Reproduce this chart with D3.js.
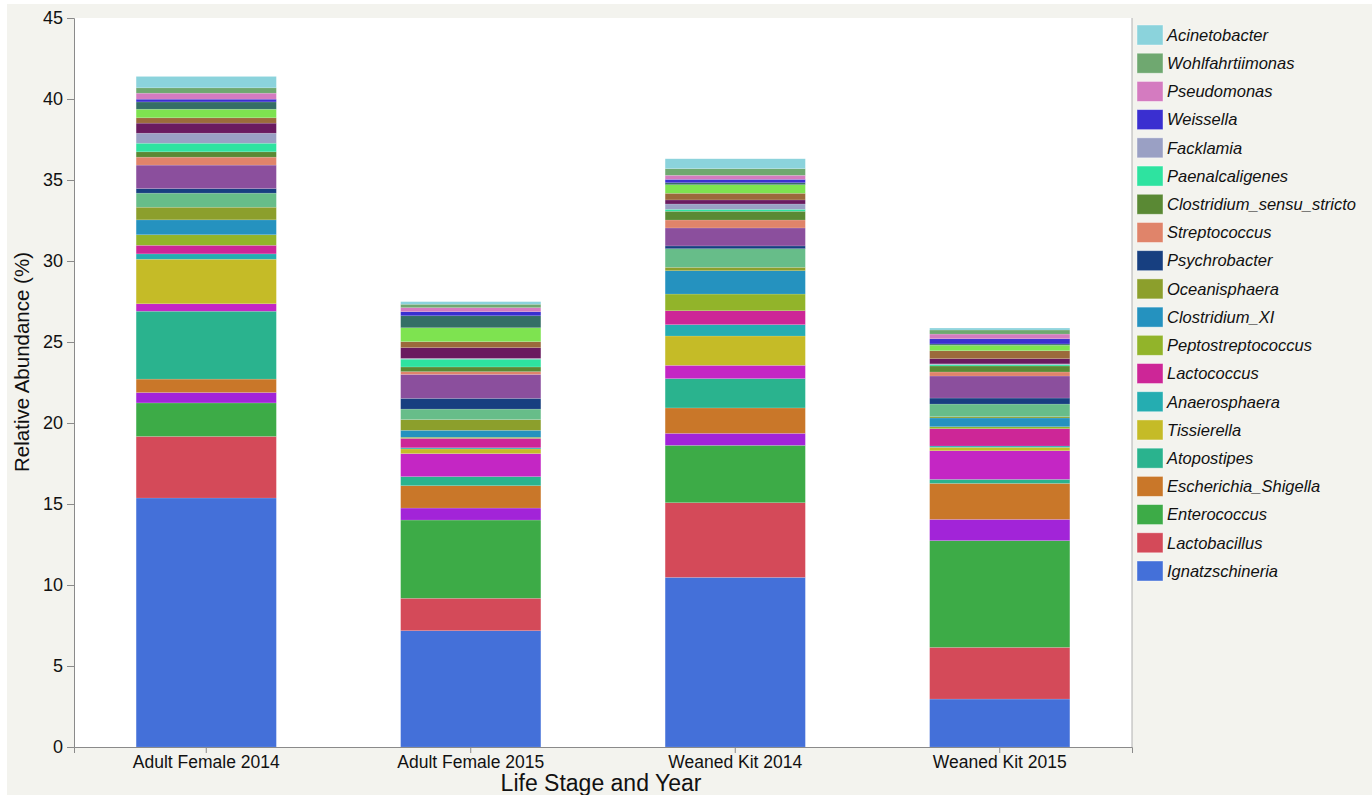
<!DOCTYPE html>
<html>
<head>
<meta charset="utf-8">
<script src="https://cdn.jsdelivr.net/npm/d3@7"></script>
<style>
  html, body { margin: 0; padding: 0; background: #ffffff; }
  svg { display: block; font-family: "Liberation Sans", Arial, Helvetica, sans-serif; }
</style>
</head>
<body>
<svg id="chart" width="1372" height="795"></svg>
<script>
// Sample groups on the x axis
const groups = ["Adult Female 2014", "Adult Female 2015", "Weaned Kit 2014", "Weaned Kit 2015"];

// Genera in stacking order, bottom to top
const genera = [
  "Ignatzschineria", "Lactobacillus", "Enterococcus", "Other genus 1",
  "Escherichia_Shigella", "Atopostipes", "Other genus 2", "Tissierella",
  "Anaerosphaera", "Lactococcus", "Peptostreptococcus", "Clostridium_XI",
  "Oceanisphaera", "Other genus 3", "Psychrobacter", "Other genus 4",
  "Streptococcus", "Clostridium_sensu_stricto", "Paenalcaligenes", "Facklamia",
  "Other genus 5", "Other genus 6", "Other genus 7", "Other genus 8",
  "Weissella", "Pseudomonas", "Wohlfahrtiimonas", "Acinetobacter"
];

const generaColors = [
  "#4470d9", "#d44a59", "#3dab47", "#a224d8",
  "#c97729", "#2ab38e", "#c426c4", "#c5bb27",
  "#25adb1", "#cd2697", "#92b42a", "#2592bf",
  "#8c9f2c", "#67bd89", "#173f80", "#8b4f9d",
  "#e0846a", "#5a8934", "#2ee3a0", "#9aa0c4",
  "#6a1a5f", "#9b6a3b", "#7ee350", "#346e66",
  "#3a2fd0", "#d47bc0", "#6fa870", "#8bd3dc"
];

// Relative abundance (%) per genus, one array per group, in stacking order
const adultFemale2014 = [15.37, 3.80, 2.07, 0.64, 0.83, 4.19, 0.46, 2.75, 0.33, 0.53, 0.65, 0.92,
  0.78, 0.87, 0.28, 1.45, 0.49, 0.33, 0.53, 0.62, 0.62, 0.33, 0.53, 0.45, 0.17, 0.37, 0.33, 0.70];
const adultFemale2015 = [7.18, 2.00, 4.83, 0.74, 1.38, 0.56, 1.42, 0.29, 0.07, 0.58, 0.07, 0.43,
  0.66, 0.65, 0.66, 1.48, 0.17, 0.29, 0.48, 0.05, 0.66, 0.37, 0.86, 0.74, 0.25, 0.25, 0.21, 0.16];
const weanedKit2014 = [10.47, 4.61, 3.54, 0.74, 1.57, 1.81, 0.82, 1.81, 0.70, 0.86, 1.03, 1.44,
  0.21, 1.15, 0.17, 1.11, 0.49, 0.54, 0.12, 0.33, 0.25, 0.41, 0.53, 0.12, 0.21, 0.25, 0.41, 0.61];
const weanedKit2015 = [2.96, 3.19, 6.59, 1.31, 2.22, 0.25, 1.77, 0.21, 0.08, 1.07, 0.12, 0.54,
  0.08, 0.78, 0.37, 1.36, 0.25, 0.37, 0.08, 0.05, 0.32, 0.49, 0.34, 0.08, 0.32, 0.29, 0.25, 0.12];

// Genera listed in the legend, top to bottom
const legendGenera = [
  "Acinetobacter", "Wohlfahrtiimonas", "Pseudomonas", "Weissella", "Facklamia",
  "Paenalcaligenes", "Clostridium_sensu_stricto", "Streptococcus", "Psychrobacter",
  "Oceanisphaera", "Clostridium_XI", "Peptostreptococcus", "Lactococcus",
  "Anaerosphaera", "Tissierella", "Atopostipes", "Escherichia_Shigella",
  "Enterococcus", "Lactobacillus", "Ignatzschineria"
];

const yTicks = [0, 5, 10, 15, 20, 25, 30, 35, 40, 45];

const valuesByGroup = [adultFemale2014, adultFemale2015, weanedKit2014, weanedKit2015];
const table = groups.map((g, i) => {
  const row = { group: g };
  genera.forEach((k, j) => { row[k] = valuesByGroup[i][j]; });
  return row;
});

const svg = d3.select("#chart");
const W = 1372, H = 795;
const margin = { left: 74, right: 240, top: 18, bottom: 48 };
const plotRight = W - margin.right;
const plotBottom = H - margin.bottom;

// Panel background
svg.append("rect").attr("x", 0).attr("y", 0).attr("width", W).attr("height", H).attr("fill", "#ffffff");
svg.append("rect").attr("x", 7).attr("y", 4).attr("width", W - 7).attr("height", H - 4).attr("fill", "#f3f3ee");
svg.append("rect").attr("x", margin.left).attr("y", margin.top)
  .attr("width", plotRight - margin.left).attr("height", plotBottom - margin.top)
  .attr("fill", "#ffffff");

const x = d3.scaleBand().domain(groups).range([margin.left, plotRight]).paddingInner(0.47).paddingOuter(0.235);
const y = d3.scaleLinear().domain([0, 45]).range([plotBottom, margin.top]);
const color = d3.scaleOrdinal().domain(genera).range(generaColors);

const series = d3.stack().keys(genera)(table);

svg.append("g").selectAll("g")
  .data(series)
  .join("g")
  .attr("fill", d => color(d.key))
  .selectAll("rect")
  .data(d => d)
  .join("rect")
  .attr("x", d => x(d.data.group))
  .attr("width", x.bandwidth())
  .attr("y", d => y(d[1]))
  .attr("height", d => Math.max(0, y(d[0]) - y(d[1])))
  .attr("stroke", "rgba(255,255,255,0.22)")
  .attr("stroke-width", 0.6);

// Y axis
const yAxis = d3.axisLeft(y).tickValues(yTicks).tickSize(7).tickPadding(4);
const gy = svg.append("g").attr("transform", `translate(${margin.left},0)`).call(yAxis);
gy.select(".domain").attr("stroke", "#8a8a8a");
gy.selectAll(".tick line").attr("stroke", "#8a8a8a");
gy.selectAll(".tick text").attr("font-size", 18).attr("fill", "#111").attr("font-family", "Liberation Sans, Arial, sans-serif");

// X axis
const xAxis = d3.axisBottom(x).tickSize(6).tickPadding(3);
const gx = svg.append("g").attr("transform", `translate(0,${plotBottom})`).call(xAxis);
gx.select(".domain").attr("stroke", "#8a8a8a");
gx.selectAll(".tick line").attr("stroke", "#8a8a8a");
gx.selectAll(".tick text").attr("font-size", 17.5).attr("fill", "#111").attr("font-family", "Liberation Sans, Arial, sans-serif");

// Right frame of the plot
svg.append("line").attr("x1", plotRight).attr("x2", plotRight)
  .attr("y1", margin.top).attr("y2", plotBottom).attr("stroke", "#b0b0b0");

// Axis titles
svg.append("text")
  .attr("transform", "translate(29,362) rotate(-90)")
  .attr("text-anchor", "middle").attr("font-size", 20.5).attr("fill", "#111")
  .text("Relative Abundance (%)");
svg.append("text")
  .attr("x", 601).attr("y", 791)
  .attr("text-anchor", "middle").attr("font-size", 23).attr("fill", "#111")
  .text("Life Stage and Year");

// Legend
const legend = svg.append("g").attr("transform", `translate(${plotRight + 4},0)`);
const rowY = d3.scalePoint().domain(legendGenera).range([35, 571]);
const items = legend.selectAll("g").data(legendGenera).join("g")
  .attr("transform", d => `translate(0,${rowY(d)})`);
items.append("rect").attr("x", 1).attr("y", -10).attr("width", 26).attr("height", 20)
  .attr("fill", d => color(d)).attr("stroke", "rgba(255,255,255,0.5)").attr("stroke-width", 0.8);
items.append("text").attr("x", 31).attr("y", 0).attr("dy", "0.35em")
  .attr("font-size", 16.5).attr("font-style", "italic").attr("fill", "#111")
  .text(d => d);
</script>
</body>
</html>
